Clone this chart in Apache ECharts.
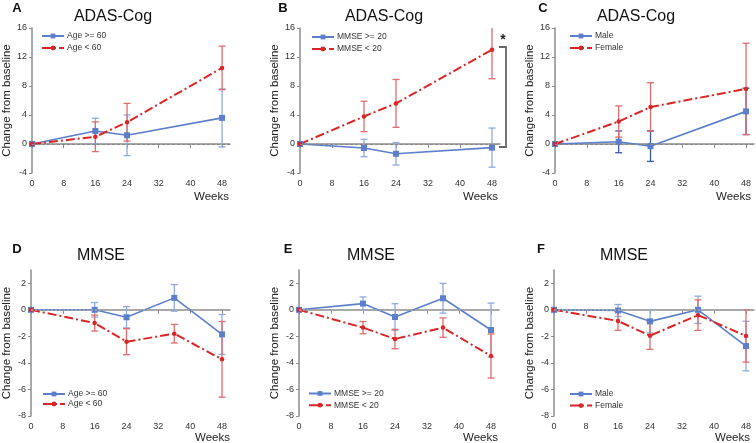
<!DOCTYPE html>
<html>
<head>
<meta charset="utf-8">
<script src="https://cdn.jsdelivr.net/npm/echarts@6/dist/echarts.min.js"></script>
<style>
html, body { margin: 0; padding: 0; background: #fff; }
#main { width: 756px; height: 443px; }
</style>
</head>
<body>
<div id="main"></div>
<script>
// x positions (weeks)
var weeksAdas = [0, 16, 24, 48];
var weeksMmse = [0, 16, 24, 36, 48];
var weekTicks = [0, 8, 16, 24, 32, 40, 48];
var adasTicks = [-4, 0, 4, 8, 12, 16];
var mmseTicks = [-8, -6, -4, -2, 0, 2];

// A - ADAS-Cog by age
var ageOldAdas = [0, 1.8, 1.2, 3.6];
var ageOldAdasErr = [0, 1.75, 2.8, 4.0];
var ageYoungAdas = [0, 1.0, 3.0, 10.5];
var ageYoungAdasErr = [0, 2.05, 2.6, 3.0];

// B - ADAS-Cog by MMSE
var mmseHiAdas = [0, -0.55, -1.35, -0.5];
var mmseHiAdasErr = [0, 1.2, 1.55, 2.7];
var mmseLoAdas = [0, 3.8, 5.6, 13.0];
var mmseLoAdasErr = [0, 2.1, 3.3, 4.0];

// C - ADAS-Cog by sex
var maleAdas = [0, 0.3, -0.3, 4.5];
var maleAdasErr = [0, 1.5, 2.1, 3.2];
var femaleAdas = [0, 3.1, 5.1, 7.6];
var femaleAdasErr = [0, 2.15, 3.35, 6.3];

// D - MMSE by age
var ageOldMmse = [0, 0.0, -0.56, 0.9, -1.85];
var ageOldMmseErr = [0, 0.55, 0.8, 1.0, 1.5];
var ageYoungMmse = [0, -1.0, -2.4, -1.8, -3.73];
var ageYoungMmseErr = [0, 0.6, 0.98, 0.7, 2.85];

// E - MMSE by MMSE
var mmseHiMmse = [0, 0.47, -0.54, 0.87, -1.52];
var mmseHiMmseErr = [0, 0.5, 1.0, 1.12, 2.03];
var mmseLoMmse = [0, -1.34, -2.2, -1.34, -3.48];
var mmseLoMmseErr = [0, 0.46, 0.73, 0.73, 1.66];

// F - MMSE by sex
var maleMmse = [0, -0.05, -0.87, 0.0, -2.73];
var maleMmseErr = [0, 0.45, 0.87, 1.03, 1.87];
var femaleMmse = [0, -0.84, -1.95, -0.4, -1.97];
var femaleMmseErr = [0, 0.7, 1.03, 1.15, 1.97];

var BLUE = '#5b7fcb';
var RED = '#d92626';
var FONT = '"Liberation Sans", Arial, sans-serif';

var panels = [
  { letter: 'A', title: 'ADAS-Cog', weeks: weeksAdas, yticks: adasTicks, ymin: -4, ymax: 16,
    names: ['Age >= 60', 'Age < 60'], blue: ageOldAdas, blueErr: ageOldAdasErr, red: ageYoungAdas, redErr: ageYoungAdasErr,
    grid: { left: 32, top: 28, width: 198, height: 145 }, legend: { left: 41, top: 31.5, gap: 3 },
    titleX: 113, titleY: 17, letterX: 17, letterY: 8, weeksX: 229, weeksY: 197,
    blueErrColor: '#8eaadf', redErrColor: '#e26b6b', zeroStyle: { color: '#888', width: 1, type: [3, 2] } },
  { letter: 'B', title: 'ADAS-Cog', weeks: weeksAdas, yticks: adasTicks, ymin: -4, ymax: 16,
    names: ['MMSE >= 20', 'MMSE < 20'], blue: mmseHiAdas, blueErr: mmseHiAdasErr, red: mmseLoAdas, redErr: mmseLoAdasErr,
    grid: { left: 300, top: 28, width: 200, height: 145 }, legend: { left: 311, top: 32.5, gap: 3 },
    titleX: 384, titleY: 17, letterX: 283, letterY: 8, weeksX: 498, weeksY: 197,
    blueErrColor: '#8eaadf', redErrColor: '#e26b6b', zeroStyle: { color: '#888', width: 1, type: [3, 2] } },
  { letter: 'C', title: 'ADAS-Cog', weeks: weeksAdas, yticks: adasTicks, ymin: -4, ymax: 16,
    names: ['Male', 'Female'], blue: maleAdas, blueErr: maleAdasErr, red: femaleAdas, redErr: femaleAdasErr,
    grid: { left: 555, top: 28, width: 199, height: 145 }, legend: { left: 569, top: 31.5, gap: 3 },
    titleX: 636, titleY: 17, letterX: 543, letterY: 8, weeksX: 751, weeksY: 197,
    blueErrColor: '#3d5aa8', redErrColor: '#e26b6b', zeroStyle: { color: '#888', width: 1, type: [3, 2] } },
  { letter: 'D', title: 'MMSE', weeks: weeksMmse, yticks: mmseTicks, ymin: -8, ymax: 3,
    names: ['Age >= 60', 'Age < 60'], blue: ageOldMmse, blueErr: ageOldMmseErr, red: ageYoungMmse, redErr: ageYoungMmseErr,
    grid: { left: 31, top: 270, width: 199, height: 146 }, legend: { left: 42, top: 389.5, gap: 1 },
    titleX: 101, titleY: 256, letterX: 17, letterY: 249, weeksX: 230, weeksY: 438,
    blueErrColor: '#8eaadf', redErrColor: '#e26b6b', zeroStyle: { color: '#aaa', width: 1.5, type: [2, 2] } },
  { letter: 'E', title: 'MMSE', weeks: weeksMmse, yticks: mmseTicks, ymin: -8, ymax: 3,
    names: ['MMSE >= 20', 'MMSE < 20'], blue: mmseHiMmse, blueErr: mmseHiMmseErr, red: mmseLoMmse, redErr: mmseLoMmseErr,
    grid: { left: 299, top: 270, width: 200, height: 146 }, legend: { left: 308, top: 389, gap: 2.7 },
    titleX: 371, titleY: 256, letterX: 288, letterY: 249, weeksX: 498, weeksY: 438,
    blueErrColor: '#8eaadf', redErrColor: '#e26b6b', zeroStyle: { color: '#aaa', width: 1.5, type: [2, 2] } },
  { letter: 'F', title: 'MMSE', weeks: weeksMmse, yticks: mmseTicks, ymin: -8, ymax: 3,
    names: ['Male', 'Female'], blue: maleMmse, blueErr: maleMmseErr, red: femaleMmse, redErr: femaleMmseErr,
    grid: { left: 554, top: 270, width: 200, height: 146 }, legend: { left: 569, top: 389.5, gap: 2.6 },
    titleX: 624, titleY: 256, letterX: 541, letterY: 249, weeksX: 750, weeksY: 438,
    blueErrColor: '#8eaadf', redErrColor: '#e26b6b', zeroStyle: { color: '#aaa', width: 1.5, type: [2, 2] } }
];

function pairs(weeks, vals) {
  return weeks.map(function (w, i) { return [w, vals[i]]; });
}

function errSeries(idx, weeks, mean, err, color) {
  var data = [];
  weeks.forEach(function (w, i) {
    if (err[i] > 0) data.push([w, mean[i] - err[i], mean[i] + err[i]]);
  });
  return {
    type: 'custom',
    xAxisIndex: idx,
    yAxisIndex: idx,
    data: data,
    encode: { x: 0, y: [1, 2] },
    clip: true,
    silent: true,
    z: 3,
    renderItem: function (params, api) {
      var lo = api.coord([api.value(0), api.value(1)]);
      var hi = api.coord([api.value(0), api.value(2)]);
      var st = { stroke: color, lineWidth: 1.3 };
      return {
        type: 'group',
        children: [
          { type: 'line', shape: { x1: lo[0], y1: lo[1], x2: hi[0], y2: hi[1] }, style: st },
          { type: 'line', shape: { x1: lo[0] - 3.5, y1: lo[1], x2: lo[0] + 3.5, y2: lo[1] }, style: st },
          { type: 'line', shape: { x1: hi[0] - 3.5, y1: hi[1], x2: hi[0] + 3.5, y2: hi[1] }, style: st }
        ]
      };
    }
  };
}

var grids = [], xAxes = [], yAxes = [], series = [], legends = [], graphics = [];

panels.forEach(function (p, i) {
  grids.push(p.grid);
  xAxes.push({
    type: 'value', gridIndex: i, min: 0, max: 50,
    axisLine: { lineStyle: { color: '#8c8c8c', width: 1.5 } },
    axisTick: { length: 4, lineStyle: { color: '#8c8c8c' }, customValues: weekTicks },
    axisLabel: { fontSize: 9, color: '#333', fontFamily: FONT, margin: 6, customValues: weekTicks },
    splitLine: { show: false }
  });
  yAxes.push({
    type: 'value', gridIndex: i, min: p.ymin, max: p.ymax,
    name: 'Change from baseline', nameLocation: 'middle', nameGap: 18,
    nameTextStyle: { fontSize: 11.5, color: '#222', fontFamily: FONT },
    axisLine: { show: true, lineStyle: { color: '#8c8c8c', width: 1.5 } },
    axisTick: { show: true, length: 3, lineStyle: { color: '#8c8c8c' }, customValues: p.yticks },
    axisLabel: { fontSize: 9, color: '#333', fontFamily: FONT, margin: 5, customValues: p.yticks },
    splitLine: { show: false }
  });
  series.push({
    name: p.names[0], type: 'line', xAxisIndex: i, yAxisIndex: i,
    data: pairs(p.weeks, p.blue),
    symbol: 'rect', symbolSize: 6,
    itemStyle: { color: BLUE },
    lineStyle: { color: BLUE, width: 1.6 },
    z: 4,
    markLine: {
      silent: true, symbol: ['none', 'none'], label: { show: false },
      lineStyle: p.zeroStyle, data: [{ yAxis: 0 }]
    }
  });
  series.push({
    name: p.names[1], type: 'line', xAxisIndex: i, yAxisIndex: i,
    data: pairs(p.weeks, p.red),
    symbol: 'circle', symbolSize: 4.5,
    itemStyle: { color: RED },
    lineStyle: { color: RED, width: 2, type: [9, 3, 2, 3] },
    z: 4
  });
  series.push(errSeries(i, p.weeks, p.blue, p.blueErr, p.blueErrColor));
  series.push(errSeries(i, p.weeks, p.red, p.redErr, p.redErrColor));

  legends.push({
    data: p.names, orient: 'vertical', left: p.legend.left, top: p.legend.top, padding: 0,
    itemWidth: 22, itemHeight: 6, itemGap: p.legend.gap, selectedMode: false,
    textStyle: { fontSize: 8.5, color: '#333', fontFamily: FONT, padding: [0, 0, 0, -2] }
  });

  graphics.push({ type: 'text', x: p.titleX, y: p.titleY,
    style: { text: p.title, font: '16px ' + FONT, fill: '#111', align: 'center', verticalAlign: 'middle' } });
  graphics.push({ type: 'text', x: p.letterX, y: p.letterY,
    style: { text: p.letter, font: 'bold 13px ' + FONT, fill: '#111', align: 'center', verticalAlign: 'middle' } });
  graphics.push({ type: 'text', x: p.weeksX, y: p.weeksY,
    style: { text: 'Weeks', font: '11.5px ' + FONT, fill: '#222', align: 'right', verticalAlign: 'middle' } });
});

// significance bracket in panel B
graphics.push({ type: 'polyline', shape: { points: [[499, 47], [506, 47], [506, 147], [499, 147]] },
  style: { stroke: '#666', lineWidth: 1.8, fill: null } });
graphics.push({ type: 'text', x: 503, y: 40,
  style: { text: '*', font: 'bold 14px ' + FONT, fill: '#222', align: 'center', verticalAlign: 'middle' } });

var chart = echarts.init(document.getElementById('main'));
chart.setOption({
  animation: false,
  backgroundColor: '#fff',
  grid: grids,
  xAxis: xAxes,
  yAxis: yAxes,
  legend: legends,
  series: series,
  graphic: graphics
});
</script>
</body>
</html>
